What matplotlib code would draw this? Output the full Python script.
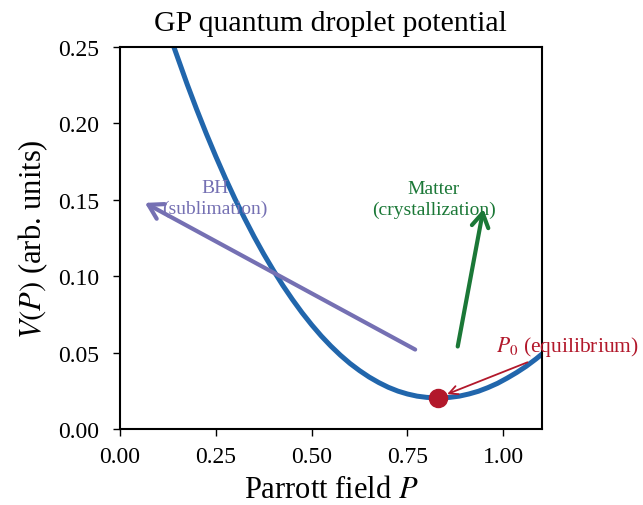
import numpy as np
import matplotlib
matplotlib.use("Agg")
import matplotlib.pyplot as plt

plt.rcParams["font.family"] = ["Liberation Serif", "DejaVu Serif"]
plt.rcParams["mathtext.fontset"] = "stix"

# potential curve
P = [0.14, 0.175, 0.20, 0.225, 0.25, 0.275, 0.30, 0.325, 0.35, 0.375, 0.40,
     0.425, 0.45, 0.475, 0.50, 0.525, 0.55, 0.575, 0.60, 0.625, 0.65, 0.675,
     0.70, 0.725, 0.75, 0.775, 0.80, 0.83, 0.86, 0.885, 0.91, 0.935, 0.96,
     0.985, 1.01, 1.035, 1.06, 1.085, 1.11]
V = [0.2504, 0.2258, 0.2092, 0.1934, 0.1784, 0.1641, 0.1506, 0.1379, 0.1258,
     0.1145, 0.1039, 0.0939, 0.0847, 0.0761, 0.0682, 0.0609, 0.0543, 0.0483,
     0.0429, 0.0382, 0.0340, 0.0304, 0.0273, 0.0248, 0.0229, 0.0215, 0.0207,
     0.0203, 0.0207, 0.0215, 0.0229, 0.0247, 0.0271, 0.0299, 0.0333, 0.0370,
     0.0411, 0.0458, 0.0509]

# equilibrium point
P0 = 0.83
V0 = 0.0205

# arrows: (tail, head)
bh_arrow = [(0.77, 0.052), (0.065, 0.148)]
matter_arrow = [(0.881, 0.054), (0.948, 0.144)]

blue = "#2166ac"
purple = "#7570b3"
green = "#1b7837"
red = "#b2182b"

fig = plt.figure(figsize=(6.43, 5.06), dpi=100)
ax = fig.add_axes([0.1866, 0.1502, 0.6558, 0.7549])

ax.plot(P, V, color=blue, lw=3.6, zorder=2, solid_joinstyle="round")
ax.plot([P0], [V0], "o", color=red, ms=13, zorder=4)

ax.annotate("", xy=bh_arrow[1], xytext=bh_arrow[0],
            arrowprops=dict(arrowstyle="->,head_length=0.5,head_width=0.3",
                            lw=3, color=purple, shrinkA=0, shrinkB=0,
                            mutation_scale=20))
ax.text(0.248, 0.151, "BH\n(sublimation)", color=purple, fontsize=14,
        ha="center", va="center", linespacing=1.25)

ax.annotate("", xy=matter_arrow[1], xytext=matter_arrow[0],
            arrowprops=dict(arrowstyle="->,head_length=0.5,head_width=0.3",
                            lw=3, color=green, shrinkA=0, shrinkB=0,
                            mutation_scale=20))
ax.text(0.819, 0.1505, "Matter\n(crystallization)", color=green, fontsize=14,
        ha="center", va="center", linespacing=1.25)

ax.annotate("$P_0$ (equilibrium)", xy=(P0, V0), xytext=(1.167, 0.054),
            color=red, fontsize=15.5, ha="center", va="center",
            annotation_clip=False,
            arrowprops=dict(arrowstyle="->", lw=1.3, color=red, shrinkB=7))

ax.set_xlim(0, 1.1)
ax.set_ylim(0, 0.25)
ax.set_xticks([0, 0.25, 0.5, 0.75, 1.0])
ax.set_yticks([0, 0.05, 0.1, 0.15, 0.2, 0.25])
ax.set_xticklabels(["0.00", "0.25", "0.50", "0.75", "1.00"])
ax.set_yticklabels(["0.00", "0.05", "0.10", "0.15", "0.20", "0.25"])
ax.tick_params(labelsize=17, length=5, width=1)
ax.tick_params(axis="x", pad=7)
ax.tick_params(axis="y", pad=10)
for s in ax.spines.values():
    s.set_linewidth(1.5)

ax.set_xlabel("Parrott field $P$", fontsize=22, labelpad=6)
ax.set_ylabel("$V(P)$ (arb. units)", fontsize=22, labelpad=6)
ax.set_title("GP quantum droplet potential", fontsize=21.5, pad=12)

fig.savefig("out.png", dpi=100)
